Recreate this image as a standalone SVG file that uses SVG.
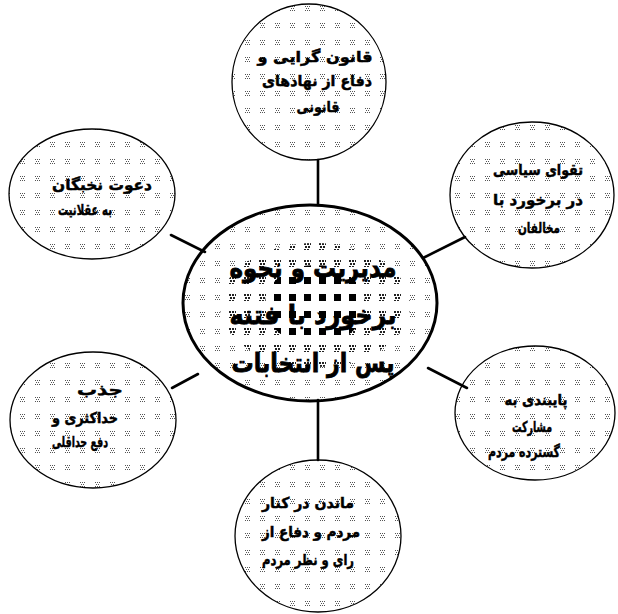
<svg xmlns="http://www.w3.org/2000/svg" width="618" height="614" viewBox="0 0 618 614">
<defs>
<pattern id="dots" x="0" y="0" width="15" height="17" patternUnits="userSpaceOnUse">
<rect x="5" y="6" width="1" height="1" fill="#555"/><rect x="7" y="6" width="1" height="1" fill="#555"/><rect x="9" y="6" width="1" height="1" fill="#555"/>
<rect x="6" y="8" width="1" height="1" fill="#555"/><rect x="8" y="8" width="1" height="1" fill="#555"/>
<rect x="5" y="10" width="1" height="1" fill="#555"/><rect x="7" y="10" width="1" height="1" fill="#555"/><rect x="9" y="10" width="1" height="1" fill="#555"/>
</pattern>
<pattern id="dots2" x="0" y="0" width="15" height="17" patternUnits="userSpaceOnUse">
<rect x="4" y="5" width="7" height="7" fill="#fff"/>
<rect x="4" y="5" width="2" height="2" fill="#222"/><rect x="7" y="5" width="2" height="2" fill="#222"/><rect x="10" y="5" width="1" height="2" fill="#222"/>
<rect x="5" y="8" width="2" height="2" fill="#222"/><rect x="8" y="8" width="2" height="2" fill="#222"/>
<rect x="4" y="11" width="2" height="1" fill="#222"/><rect x="7" y="11" width="2" height="1" fill="#222"/>
</pattern>
<pattern id="dots3" x="0" y="0" width="15" height="17" patternUnits="userSpaceOnUse">
<rect x="0" y="0" width="15" height="17" fill="#fff"/>
<rect x="4" y="5" width="7" height="7" fill="#000"/>
</pattern>
<style>
.sat{fill:url(#dots);stroke:#000;stroke-width:1.3}
.main{fill:url(#dots);stroke:#000;stroke-width:3}
.conn line{stroke:#000;stroke-width:2.6;stroke-linecap:round}
text{font-family:"DejaVu Sans","Noto Sans",sans-serif;font-weight:bold;text-anchor:middle;fill:#000}
.s{font-size:15px;stroke:#000;stroke-width:0.5}
.c{font-size:26px;stroke:#000;stroke-width:0.8}
</style>
</defs>
<rect width="618" height="614" fill="#fff"/>
<g id="connectors" class="conn">
<line x1="318" y1="160" x2="318" y2="205"/>
<line x1="171" y1="235" x2="205" y2="252"/>
<line x1="465" y1="237" x2="423" y2="258"/>
<line x1="172" y1="388" x2="198" y2="374"/>
<line x1="428" y1="368" x2="467" y2="388"/>
<line x1="318" y1="400" x2="318" y2="460"/>
</g>
<g id="center">
<ellipse class="main" cx="310" cy="303" rx="127" ry="98"/>
<ellipse cx="315" cy="305" rx="95" ry="62" fill="url(#dots2)"/>
<ellipse cx="315" cy="305" rx="50" ry="40" fill="url(#dots3)"/>
<text class="c" x="313" y="277" textLength="167" lengthAdjust="spacingAndGlyphs">مدیریت و نحوه</text>
<text class="c" x="313" y="324" textLength="167" lengthAdjust="spacingAndGlyphs">برخورد با فتنه</text>
<text class="c" x="313" y="372" textLength="163" lengthAdjust="spacingAndGlyphs">پس از انتخابات</text>
</g>
<g id="top">
<ellipse class="sat" cx="309" cy="82" rx="77" ry="78"/>
<text class="s" x="315" y="62" textLength="115" lengthAdjust="spacingAndGlyphs">قانون گرایی و</text>
<text class="s" x="317" y="86" textLength="110" lengthAdjust="spacingAndGlyphs">دفاع از نهادهای</text>
<text class="s" x="318" y="112" textLength="43" lengthAdjust="spacingAndGlyphs">قانونی</text>
</g>
<g id="upper-right">
<ellipse class="sat" cx="532" cy="195" rx="82" ry="73"/>
<text class="s" x="538" y="175" textLength="90" lengthAdjust="spacingAndGlyphs">تقوای سیاسی</text>
<text class="s" x="538" y="205" textLength="90" lengthAdjust="spacingAndGlyphs">در برخورد با</text>
<text class="s" x="539" y="233" textLength="42" lengthAdjust="spacingAndGlyphs">مخالفان</text>
</g>
<g id="upper-left">
<ellipse class="sat" cx="92" cy="194" rx="83" ry="65"/>
<text class="s" x="102" y="190" textLength="100" lengthAdjust="spacingAndGlyphs">دعوت نخبگان</text>
<text class="s" x="85" y="215" textLength="54" lengthAdjust="spacingAndGlyphs">به عقلانیت</text>
</g>
<g id="lower-left">
<ellipse class="sat" cx="93" cy="420" rx="83" ry="68"/>
<text class="s" x="100" y="395" textLength="46" lengthAdjust="spacingAndGlyphs">جذب</text>
<text class="s" x="85" y="423" textLength="66" lengthAdjust="spacingAndGlyphs">حداکثری و</text>
<text class="s" x="80" y="447" textLength="56" lengthAdjust="spacingAndGlyphs">دفع حداقلی</text>
</g>
<g id="lower-right">
<ellipse class="sat" cx="535" cy="413" rx="80" ry="67"/>
<text class="s" x="536" y="405" textLength="63" lengthAdjust="spacingAndGlyphs">پایبندی به</text>
<text class="s" x="532" y="432" textLength="40" lengthAdjust="spacingAndGlyphs">مشارکت</text>
<text class="s" x="524" y="457" textLength="72" lengthAdjust="spacingAndGlyphs">گسترده مردم</text>
</g>
<g id="bottom">
<ellipse class="sat" cx="318" cy="536" rx="83" ry="76"/>
<text class="s" x="308" y="508" textLength="92" lengthAdjust="spacingAndGlyphs">ماندن در کنار</text>
<text class="s" x="311" y="537" textLength="98" lengthAdjust="spacingAndGlyphs">مردم و دفاع از</text>
<text class="s" x="308" y="565" textLength="92" lengthAdjust="spacingAndGlyphs">رای و نظر مردم</text>
</g>
</svg>
